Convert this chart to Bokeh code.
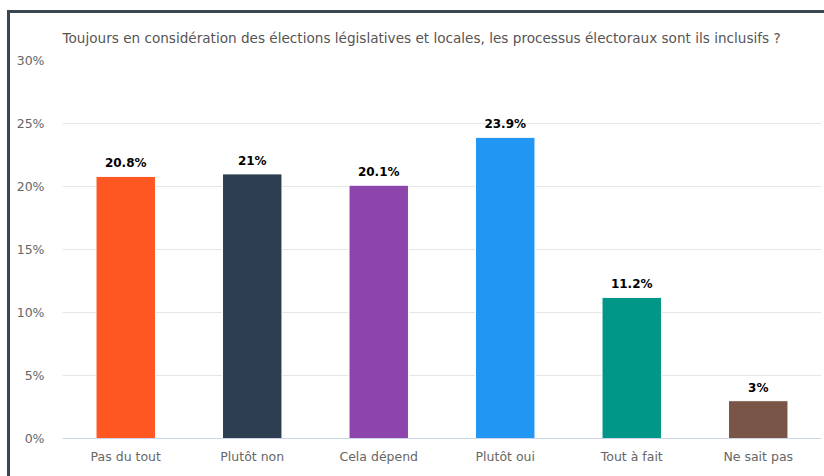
from bokeh.plotting import figure
from bokeh.models import ColumnDataSource, LabelSet, FactorRange, Range1d, CustomJSTickFormatter
from bokeh.core.properties import value
from bokeh.layouts import column
from bokeh.embed import file_html
from bokeh.resources import INLINE

categories = ["Pas du tout", "Plutôt non", "Cela dépend", "Plutôt oui", "Tout à fait", "Ne sait pas"]
values = [20.8, 21, 20.1, 23.9, 11.2, 3]
colors = ["#FF5722", "#2C3E50", "#8E44AD", "#2196F3", "#009688", "#795548"]
labels = [f"{v:g}%" for v in values]
title = "Toujours en considération des élections législatives et locales, les processus électoraux sont ils inclusifs ?"

src = ColumnDataSource(dict(cat=categories, val=values, color=colors, label=labels))

FONT = "DejaVu Sans"
p = figure(x_range=FactorRange(*categories, range_padding=0), y_range=Range1d(0, 30),
           width=814, height=463, output_backend="svg", toolbar_location=None,
           min_border_left=52, min_border_right=3, min_border_bottom=38, min_border_top=12)
p.title.text = title
p.title.text_font = FONT
p.title.text_font_size = "13.6px"
p.title.text_font_style = "normal"
p.title.text_color = "#555555"
p.title.standoff = 29

p.vbar(x="cat", top="val", width=0.47, color="color", line_color="white", line_width=1, source=src)
p.add_layout(LabelSet(x="cat", y="val", text="label", source=src, text_align="center",
                      text_baseline="bottom", y_offset=6, text_font_size="12px",
                      text_font_style="bold", text_color="#000000", text_font=value(FONT)))

p.yaxis.ticker = [0, 5, 10, 15, 20, 25, 30]
p.yaxis.formatter = CustomJSTickFormatter(code="return tick + '%'")
p.yaxis.axis_line_color = None
p.yaxis.major_tick_line_color = None
p.yaxis.minor_tick_line_color = None
p.yaxis.major_label_text_font = FONT
p.yaxis.major_label_text_font_size = "12.5px"
p.yaxis.major_label_text_color = "#666666"
p.yaxis.major_label_standoff = 12

p.xaxis.axis_line_color = "#ccd6eb"
p.xaxis.major_tick_line_color = None
p.xaxis.minor_tick_line_color = None
p.xaxis.major_label_text_font = FONT
p.xaxis.major_label_text_font_size = "12.5px"
p.xaxis.major_label_text_color = "#666666"
p.xaxis.major_label_standoff = 4

p.xgrid.grid_line_color = None
p.ygrid.grid_line_color = "#e6e6e6"
p.outline_line_color = None

layout = column(p, styles={"margin-left": "7px", "margin-top": "10px",
                           "border-left": "3px solid #3a4750", "border-top": "3px solid #3a4750"})

open("out.html", "w").write(file_html(layout, INLINE))
